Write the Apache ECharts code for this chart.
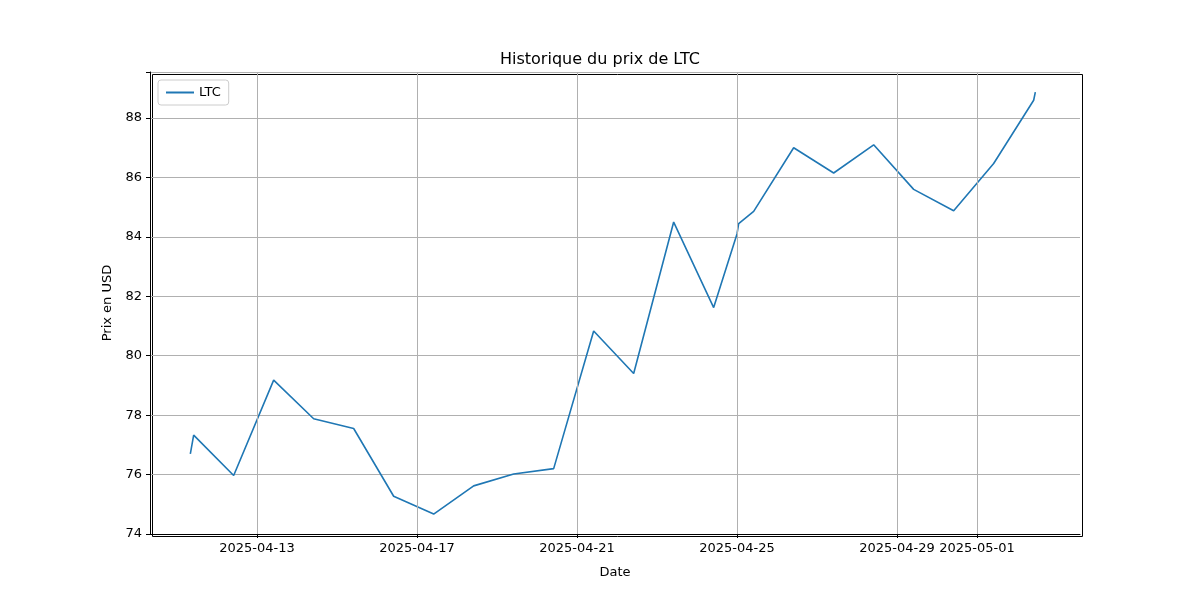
<!DOCTYPE html>
<html lang="en">
<head>
    <meta charset="utf-8">
    <title>Historique du prix de LTC</title>
    <script src="https://cdn.jsdelivr.net/npm/echarts@6/dist/echarts.min.js"></script>
</head>
<body style="margin:0">
<div id="main" style="width: 1200px;height:600px;"></div>
<script type="text/javascript">
    // dates et prix
    var dates = [
        '2025-04-11T08:00', '2025-04-11T10:00',
        '2025-04-12T10:00', '2025-04-13T10:00', '2025-04-14T10:00', '2025-04-15T10:00',
        '2025-04-16T10:00', '2025-04-17T10:00', '2025-04-18T10:00', '2025-04-19T10:00',
        '2025-04-20T10:00', '2025-04-21T10:00', '2025-04-22T10:00', '2025-04-23T10:00',
        '2025-04-24T10:00', '2025-04-25T00:00', '2025-04-25T01:00', '2025-04-25T10:00',
        '2025-04-26T10:00', '2025-04-27T10:00', '2025-04-28T10:00', '2025-04-29T10:00',
        '2025-04-30T10:00', '2025-05-01T10:00', '2025-05-02T10:00', '2025-05-02T11:00'
    ];
    var prices = [
        76.70, 77.33,
        75.97, 79.18, 77.88, 77.55,
        75.27, 74.67, 75.62, 76.02,
        76.20, 80.83, 79.40, 84.50,
        81.62, 84.10, 84.45, 84.86,
        87.00, 86.15, 87.10, 85.60,
        84.88, 86.47, 88.60, 88.87
    ];
    var tickDates = ['2025-04-13', '2025-04-17', '2025-04-21', '2025-04-25', '2025-04-29', '2025-05-01'];

    function ts(s) { return new Date(s.length > 10 ? s : s + 'T00:00').getTime(); }
    var tickValues = tickDates.map(ts);
    var seriesData = dates.map(function (d, i) { return [ts(d), prices[i]]; });

    function fmtDate(v) {
        var d = new Date(v);
        var m = d.getMonth() + 1, j = d.getDate();
        return d.getFullYear() + '-' + (m < 10 ? '0' + m : m) + '-' + (j < 10 ? '0' + j : j);
    }

    var myChart = echarts.init(document.getElementById('main'));
    var font = 'DejaVu Sans';
    myChart.setOption({
        textStyle: { fontFamily: font },
        title: {
            text: 'Historique du prix de LTC',
            left: 'center', top: 47,
            textStyle: { fontSize: 16, fontWeight: 'normal', color: '#000', fontFamily: font }
        },
        legend: {
            left: 158, top: 80,
            padding: [6, 8],
            borderColor: '#ccc', borderWidth: 1, borderRadius: 3,
            itemWidth: 28, itemHeight: 2,
            icon: 'rect',
            textStyle: { fontSize: 13, color: '#000', fontFamily: font },
            data: ['LTC']
        },
        grid: { left: 150, right: 120, top: 72, bottom: 66 },
        xAxis: {
            type: 'value',
            min: ts('2025-04-10T07:48'),
            max: ts('2025-05-03T13:48'),
            name: 'Date', nameLocation: 'middle', nameGap: 32,
            nameTextStyle: { fontSize: 13, color: '#000' },
            axisLine: { onZero: false, lineStyle: { color: '#000' } },
            axisTick: { customValues: tickValues, length: 4, lineStyle: { color: '#000' } },
            axisLabel: {
                customValues: tickValues, fontSize: 13, color: '#000',
                formatter: fmtDate
            },
            splitLine: { show: false }
        },
        yAxis: {
            type: 'value',
            min: 74, max: 89.55, interval: 2,
            name: 'Prix en USD', nameLocation: 'middle', nameGap: 34,
            nameTextStyle: { fontSize: 13, color: '#000' },
            axisLine: { show: true, lineStyle: { color: '#000' } },
            axisTick: { show: true, length: 4, lineStyle: { color: '#000' } },
            axisLabel: {
                fontSize: 13, color: '#000',
                formatter: function (v) { return Math.abs(v % 2) < 1e-6 ? String(v) : ''; }
            },
            splitLine: { lineStyle: { color: '#b0b0b0' } }
        },
        series: [{
            name: 'LTC',
            type: 'line',
            data: seriesData,
            showSymbol: false,
            itemStyle: { color: '#1f77b4' },
            lineStyle: { width: 1.6, color: '#1f77b4' },
            markLine: {
                silent: true, symbol: 'none', label: { show: false },
                lineStyle: { color: '#b0b0b0', type: 'solid', width: 1 },
                data: tickValues.map(function (v) { return { xAxis: v }; })
            },
            z: 3
        }],
        graphic: [{
            type: 'rect', left: 150, top: 72, silent: true,
            shape: { width: 930, height: 462 },
            style: { fill: 'none', stroke: '#000', lineWidth: 1 }
        }]
    });
</script>
</body>
</html>
